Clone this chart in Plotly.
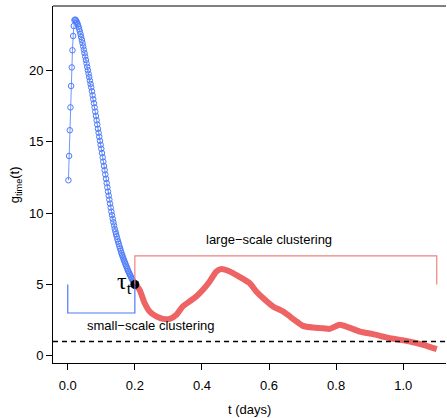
import plotly.graph_objects as go

# Small-scale part of the temporal correlation function (open circles)
t_small = [0.002, 0.004, 0.006, 0.008, 0.010, 0.012, 0.014, 0.016, 0.018, 0.020,
           0.022, 0.024, 0.026, 0.028, 0.030, 0.032, 0.034, 0.036, 0.038, 0.040,
           0.042, 0.044, 0.046, 0.048, 0.050, 0.052, 0.054, 0.056, 0.058, 0.060,
           0.062, 0.064, 0.066, 0.068, 0.070, 0.072, 0.074, 0.076, 0.078, 0.080,
           0.082, 0.084, 0.086, 0.088, 0.090, 0.092, 0.094, 0.096, 0.098, 0.100,
           0.102, 0.104, 0.106, 0.108, 0.110, 0.112, 0.114, 0.116, 0.118, 0.120,
           0.122, 0.124, 0.126, 0.128, 0.130, 0.132, 0.134, 0.136, 0.138, 0.140,
           0.142, 0.144, 0.146, 0.148, 0.150, 0.152, 0.154, 0.156, 0.158, 0.160,
           0.162, 0.164, 0.166, 0.168, 0.170, 0.172, 0.174, 0.176, 0.178, 0.180,
           0.182, 0.184, 0.186, 0.188, 0.190, 0.192, 0.194, 0.196, 0.198, 0.200]
g_small = [12.30, 14.00, 15.80, 17.40, 18.90, 20.20, 21.40, 22.40, 23.10, 23.50,
           23.55, 23.50, 23.42, 23.32, 23.20, 23.06, 22.90, 22.72, 22.53, 22.33,
           22.12, 21.90, 21.67, 21.44, 21.20, 20.96, 20.72, 20.48, 20.24, 20.00,
           19.76, 19.52, 19.28, 19.04, 18.80, 18.53, 18.25, 17.97, 17.69, 17.40,
           17.10, 16.80, 16.50, 16.20, 15.90, 15.62, 15.34, 15.06, 14.78, 14.50,
           14.20, 13.90, 13.60, 13.30, 13.00, 12.70, 12.40, 12.10, 11.80, 11.50,
           11.22, 10.94, 10.66, 10.38, 10.10, 9.85, 9.60, 9.36, 9.13, 8.90,
           8.71, 8.53, 8.35, 8.17, 8.00, 7.84, 7.68, 7.52, 7.36, 7.20,
           7.07, 6.94, 6.81, 6.68, 6.55, 6.43, 6.31, 6.19, 6.07, 5.95,
           5.85, 5.75, 5.65, 5.55, 5.45, 5.36, 5.27, 5.18, 5.09, 5.00]

# Large-scale part (thick line)
t_large = [0.200, 0.214, 0.229, 0.244, 0.264, 0.284, 0.304, 0.324, 0.343, 0.363,
           0.383, 0.403, 0.423, 0.443, 0.458, 0.483, 0.503, 0.527, 0.542, 0.562,
           0.582, 0.612, 0.642, 0.662, 0.682, 0.701, 0.731, 0.761, 0.781, 0.801,
           0.811, 0.831, 0.871, 0.910, 0.960, 1.020, 1.060, 1.100]
g_large = [5.00, 4.63, 3.70, 3.11, 2.76, 2.59, 2.59, 2.88, 3.46, 3.81,
           4.16, 4.63, 5.21, 5.91, 6.08, 5.91, 5.65, 5.33, 5.10, 4.51,
           4.05, 3.46, 3.11, 2.76, 2.41, 2.10, 1.98, 1.94, 1.89, 2.10,
           2.17, 2.05, 1.70, 1.52, 1.24, 1.00, 0.77, 0.47]

tau_t, tau_g = 0.2, 5.0
baseline = 1.0
small_bracket = (0.0, 0.2, 3.0)     # x0, x1, bottom level
large_bracket = (0.2, 1.1, 7.0)     # x0, x1, top level

x_ticks = [0.0, 0.2, 0.4, 0.6, 0.8, 1.0]
x_ticklabels = ["0.0", "0.2", "0.4", "0.6", "0.8", "1.0"]
y_ticks = [0, 5, 10, 15, 20]

BLUE = "#4D7BFA"
RED = "#EE6363"
RED_LIGHT = "#F08080"
FONT = "Liberation Sans, Arial, Helvetica, sans-serif"

fig = go.Figure()

fig.add_trace(go.Scatter(
    x=t_small, y=g_small, mode="lines+markers",
    line=dict(color=BLUE, width=0.8),
    marker=dict(symbol="circle-open", size=5.5, color=BLUE, line=dict(width=1, color=BLUE)),
    showlegend=False, hoverinfo="skip"))

fig.add_trace(go.Scatter(
    x=t_large, y=g_large, mode="lines",
    line=dict(color=RED, width=6, shape="spline", smoothing=0.6),
    showlegend=False, hoverinfo="skip"))

fig.add_trace(go.Scatter(
    x=[tau_t], y=[tau_g], mode="markers",
    marker=dict(color="black", size=9),
    showlegend=False, hoverinfo="skip"))

shapes = []
# dashed reference level
shapes.append(dict(type="line", xref="paper", x0=0, x1=1, yref="y", y0=baseline, y1=baseline,
                   line=dict(color="black", width=1.5, dash="5px,4px")))
# small-scale bracket (below)
sx0, sx1, sy = small_bracket
shapes.append(dict(type="path", xref="x", yref="y",
                   path=f"M {sx0} {tau_g} L {sx0} {sy} L {sx1} {sy} L {sx1} {tau_g}",
                   line=dict(color=BLUE, width=1.2)))
# large-scale bracket (above)
lx0, lx1, ly = large_bracket
shapes.append(dict(type="path", xref="x", yref="y",
                   path=f"M {lx0} {tau_g} L {lx0} {ly} L {lx1} {ly} L {lx1} {tau_g}",
                   line=dict(color=RED_LIGHT, width=1.2)))
# top frame line
shapes.append(dict(type="line", xref="paper", yref="paper", x0=0, x1=1, y0=1, y1=1,
                   line=dict(color="black", width=1)))

annotations = [
    dict(x=0.6, y=8.13, xref="x", yref="y", text="large\u2212scale clustering",
         showarrow=False, font=dict(family=FONT, size=13, color="black")),
    dict(x=0.249, y=2.12, xref="x", yref="y", text="small\u2212scale clustering",
         showarrow=False, font=dict(family=FONT, size=13, color="black")),
    dict(x=tau_t, y=tau_g, xref="x", yref="y", text="\u03c4<sub>t</sub>",
         showarrow=False, xanchor="right", yanchor="middle", xshift=-1, yshift=1,
         font=dict(family="Liberation Serif, serif", size=24, color="black")),
    dict(x=0.5, y=-0.13, xref="paper", yref="paper", text="t (days)",
         showarrow=False, yanchor="middle", font=dict(family=FONT, size=13, color="black")),
    dict(x=-0.095, y=0.5, xref="paper", yref="paper", text="g<sub>time</sub>(t)",
         showarrow=False, textangle=-90, xanchor="center", yanchor="middle",
         font=dict(family=FONT, size=13, color="black")),
]

fig.update_layout(
    width=447, height=418,
    margin=dict(l=53, r=1, t=6, b=55),
    paper_bgcolor="white", plot_bgcolor="white",
    shapes=shapes, annotations=annotations,
    font=dict(family=FONT, size=13, color="black"),
    xaxis=dict(range=[-0.044, 1.1275], tickvals=x_ticks, ticktext=x_ticklabels,
               ticks="outside", ticklen=6, tickcolor="black", showline=True,
               linecolor="black", linewidth=1, showgrid=False, zeroline=False,
               ticklabelstandoff=4, tickfont=dict(family=FONT, size=13, color="black")),
    yaxis=dict(range=[-0.5, 24.5], tickvals=y_ticks, ticks="outside", ticklen=6,
               tickcolor="black", showline=True, linecolor="black", linewidth=1,
               showgrid=False, zeroline=False,
               tickfont=dict(family=FONT, size=13, color="black")),
)

fig.write_html("out.html")
